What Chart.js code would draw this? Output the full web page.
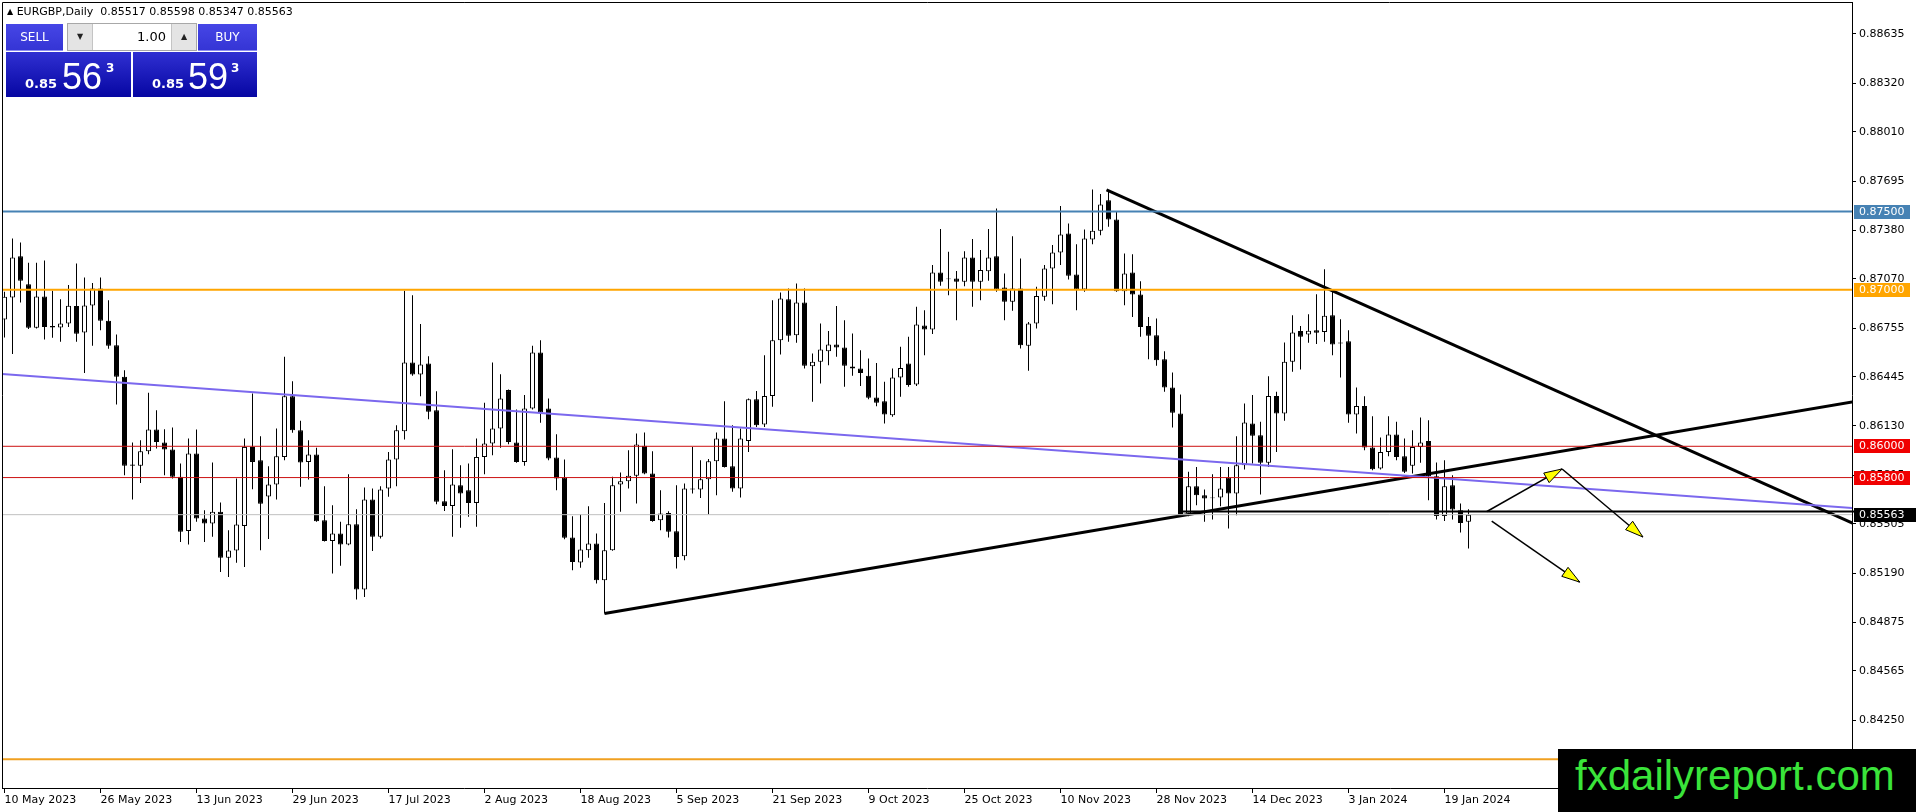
<!DOCTYPE html>
<html>
<head>
<meta charset="utf-8">
<script src="https://cdn.jsdelivr.net/npm/chart.js@4.4.1/dist/chart.umd.min.js"></script>
<style>
  html, body { margin: 0; padding: 0; background: #fff; overflow: hidden; }
  #wrap { position: relative; width: 1916px; height: 812px; }
  #chart { position: absolute; left: 0; top: 0; }
  #hdr { position: absolute; left: 7px; top: 5px; font: 11px 'DejaVu Sans', sans-serif; color: #000; white-space: pre; }
  #hdr .tri { font-size: 8px; position: relative; top: -1px; }
  .btn { position: absolute; background: linear-gradient(#4646e6, #3434d4); color: #fff; font: 12px 'DejaVu Sans', sans-serif;
         text-align: center; line-height: 27px; box-shadow: inset 0 -1px 0 #8c8cf2; }
  .spin { position: absolute; border: 1px solid #a8a8a8; background: #fff; box-sizing: border-box; }
  .spin div { position: absolute; top: 0; bottom: 0; box-sizing: border-box; }
  .spin .arr { background: #e4e4e4; font: 8px 'DejaVu Sans', sans-serif; text-align: center; line-height: 26px; color: #222; }
  .spin .inp { font: 13px 'DejaVu Sans', sans-serif; text-align: right; padding-right: 5px; line-height: 26px; color: #000; }
  .price { position: absolute; background: linear-gradient(#3030d2, #0606a2); color: #fff; }
  .price span { position: absolute; line-height: 1; white-space: nowrap; }
  .price .sm { font: bold 13px 'DejaVu Sans', sans-serif; top: 24px; }
  .price .big { font: 36px 'Liberation Sans', sans-serif; top: 4px; }
  .price .sup { font: bold 12px 'DejaVu Sans', sans-serif; top: 9px; }
  #mark { position: absolute; left: 1558px; top: 749px; width: 358px; height: 63px; background: #000; }
  #mark span { position: absolute; left: 17px; top: 6px; font: 42px 'Liberation Sans', sans-serif; color: #3ae43a; line-height: 1; }
</style>
</head>
<body>
<div id="wrap">
  <canvas id="chart" width="1916" height="812"></canvas>
  <div id="hdr"></div>
  <div class="btn" style="left:6px;top:24px;width:57px;height:27px">SELL</div>
  <div class="spin" style="left:67px;top:23px;width:130px;height:28px">
    <div class="arr" style="left:0;width:25px;border-right:1px solid #c4c4c4">▼</div>
    <div class="inp" style="left:25px;width:78px">1.00</div>
    <div class="arr" style="left:103px;width:25px;border-left:1px solid #c4c4c4">▲</div>
  </div>
  <div class="btn" style="left:198px;top:24px;width:59px;height:27px">BUY</div>
  <div class="price" style="left:6px;top:52px;width:125px;height:45px">
    <span class="sm" style="left:19px">0.85</span><span class="big" style="left:56px">56</span><span class="sup" style="left:100px">3</span>
  </div>
  <div class="price" style="left:133px;top:52px;width:124px;height:45px">
    <span class="sm" style="left:19px">0.85</span><span class="big" style="left:55px">59</span><span class="sup" style="left:98px">3</span>
  </div>
  <div id="mark"><span>fxdailyreport.com</span></div>
</div>
<script>
// EURGBP daily, 10 May 2023 .. 24 Jan 2024 (bar index 0..183)
const open = [
  0.86810, 0.86951, 0.87215, 0.87036, 0.86757, 0.86957, 0.86768, 0.86759, 0.86785, 0.86896,
  0.86727, 0.86900, 0.87009, 0.86802, 0.86646, 0.86444, 0.85883, 0.85875, 0.85969, 0.86107,
  0.86024, 0.85979, 0.85805, 0.85459, 0.85954, 0.85538, 0.85506, 0.85581, 0.85287, 0.85334,
  0.85491, 0.85996, 0.85911, 0.85679, 0.85755, 0.85932, 0.86320, 0.86103, 0.85900, 0.85947,
  0.85528, 0.85395, 0.85442, 0.85372, 0.85502, 0.85084, 0.85660, 0.85421, 0.85730, 0.85915,
  0.86096, 0.86535, 0.86459, 0.86529, 0.86231, 0.85649, 0.85619, 0.85751, 0.85719, 0.85638,
  0.85932, 0.86018, 0.86114, 0.86359, 0.86024, 0.85900, 0.86241, 0.86599, 0.86241, 0.85928,
  0.85800, 0.85417, 0.85257, 0.85336, 0.85378, 0.85144, 0.85336, 0.85755, 0.85777, 0.85811,
  0.86003, 0.85826, 0.85528, 0.85574, 0.85457, 0.85297, 0.85730, 0.85724, 0.85790, 0.85905,
  0.86050, 0.85873, 0.85730, 0.86033, 0.86301, 0.86139, 0.86322, 0.86678, 0.86940, 0.86710,
  0.86919, 0.86512, 0.86540, 0.86608, 0.86651, 0.86631, 0.86510, 0.86497, 0.86450, 0.86312,
  0.86288, 0.86199, 0.86440, 0.86529, 0.86395, 0.86772, 0.86746, 0.87111, 0.87072, 0.87072,
  0.87051, 0.87207, 0.87051, 0.87119, 0.87215, 0.87015, 0.86923, 0.87009, 0.86642, 0.86785,
  0.86955, 0.87136, 0.87239, 0.87360, 0.87098, 0.87002, 0.87322, 0.87377, 0.87573, 0.87450,
  0.86991, 0.87111, 0.86970, 0.86768, 0.86710, 0.86557, 0.86376, 0.86209, 0.85570, 0.85745,
  0.85687, 0.85672, 0.85672, 0.85800, 0.85698, 0.85879, 0.86146, 0.86071, 0.85894, 0.86322,
  0.86209, 0.86540, 0.86736, 0.86714, 0.86742, 0.86731, 0.86838, 0.86663, 0.86672, 0.86203,
  0.86258, 0.85992, 0.85858, 0.85964, 0.86075, 0.85937, 0.85875, 0.85996, 0.86033, 0.85809,
  0.85555, 0.85751, 0.85591, 0.85517
];
const high = [
  0.86987, 0.87328, 0.87303, 0.87173, 0.87173, 0.87188, 0.86994, 0.86940, 0.87030, 0.87168,
  0.87079, 0.87043, 0.87079, 0.86934, 0.86714, 0.86486, 0.86024, 0.86039, 0.86342, 0.86231,
  0.86109, 0.86120, 0.85890, 0.86050, 0.86107, 0.85591, 0.85896, 0.85640, 0.85464, 0.85794,
  0.86050, 0.86337, 0.86064, 0.85873, 0.86114, 0.86572, 0.86416, 0.86163, 0.86039, 0.85990,
  0.85745, 0.85623, 0.85517, 0.85822, 0.85598, 0.85736, 0.85730, 0.85745, 0.85964, 0.86135,
  0.86994, 0.86966, 0.86781, 0.86576, 0.86352, 0.85847, 0.85981, 0.85879, 0.85890, 0.86050,
  0.86278, 0.86535, 0.86461, 0.86363, 0.86235, 0.86327, 0.86642, 0.86678, 0.86305, 0.86077,
  0.85915, 0.85553, 0.85564, 0.85617, 0.85442, 0.85638, 0.85805, 0.85832, 0.85975, 0.86082,
  0.86088, 0.85969, 0.85719, 0.85585, 0.85751, 0.85762, 0.85996, 0.85911, 0.85918, 0.86088,
  0.86288, 0.86135, 0.86114, 0.86305, 0.86354, 0.86582, 0.86934, 0.86983, 0.87009, 0.87040,
  0.87009, 0.86593, 0.86785, 0.86736, 0.86896, 0.86806, 0.86721, 0.86614, 0.86561, 0.86533,
  0.86412, 0.86497, 0.86636, 0.86700, 0.86891, 0.86870, 0.87158, 0.87388, 0.87243, 0.87121,
  0.87247, 0.87324, 0.87254, 0.87388, 0.87520, 0.87104, 0.87343, 0.87200, 0.86795, 0.87019,
  0.87158, 0.87286, 0.87535, 0.87424, 0.87292, 0.87386, 0.87641, 0.87612, 0.87637, 0.87499,
  0.87232, 0.87228, 0.87055, 0.86827, 0.86817, 0.86608, 0.86472, 0.86331, 0.85837, 0.85868,
  0.85724, 0.85822, 0.85868, 0.85868, 0.86064, 0.86273, 0.86327, 0.86156, 0.86448, 0.86348,
  0.86663, 0.86838, 0.86768, 0.86844, 0.86972, 0.87132, 0.86994, 0.86812, 0.86742, 0.86376,
  0.86320, 0.86192, 0.86056, 0.86192, 0.86156, 0.86050, 0.86103, 0.86184, 0.86167, 0.85896,
  0.85911, 0.85815, 0.85634, 0.85598
];
const low = [
  0.86695, 0.86589, 0.86919, 0.86749, 0.86753, 0.86682, 0.86693, 0.86668, 0.86763, 0.86668,
  0.86469, 0.86642, 0.86742, 0.86623, 0.86267, 0.85815, 0.85660, 0.85766, 0.85949, 0.85986,
  0.85815, 0.85794, 0.85389, 0.85372, 0.85517, 0.85389, 0.85421, 0.85197, 0.85165, 0.85255,
  0.85229, 0.85726, 0.85336, 0.85408, 0.85660, 0.85911, 0.86086, 0.85741, 0.85787, 0.85517,
  0.85391, 0.85187, 0.85236, 0.85368, 0.85020, 0.85037, 0.85331, 0.85410, 0.85677, 0.85745,
  0.86043, 0.86450, 0.86320, 0.86173, 0.85630, 0.85587, 0.85421, 0.85479, 0.85549, 0.85485,
  0.85822, 0.85943, 0.85990, 0.86013, 0.85894, 0.85875, 0.86235, 0.86150, 0.85911, 0.85719,
  0.85406, 0.85208, 0.85223, 0.85287, 0.85123, 0.84931, 0.85332, 0.85581, 0.85730, 0.85634,
  0.85822, 0.85517, 0.85464, 0.85417, 0.85219, 0.85272, 0.85698, 0.85670, 0.85564, 0.85687,
  0.85864, 0.85709, 0.85672, 0.85964, 0.86124, 0.86124, 0.86252, 0.86587, 0.86668, 0.86661,
  0.86497, 0.86284, 0.86401, 0.86518, 0.86572, 0.86380, 0.86450, 0.86386, 0.86301, 0.86256,
  0.86146, 0.86188, 0.86316, 0.86380, 0.86386, 0.86582, 0.86717, 0.87026, 0.86966, 0.86806,
  0.87023, 0.86891, 0.86934, 0.87058, 0.86987, 0.86806, 0.86866, 0.86625, 0.86482, 0.86753,
  0.86930, 0.86908, 0.87158, 0.87066, 0.86870, 0.86987, 0.87292, 0.87349, 0.87403, 0.86987,
  0.86902, 0.86827, 0.86700, 0.86557, 0.86514, 0.86348, 0.86120, 0.85553, 0.85553, 0.85623,
  0.85517, 0.85532, 0.85617, 0.85474, 0.85560, 0.85851, 0.85890, 0.85692, 0.85868, 0.85964,
  0.86163, 0.86476, 0.86491, 0.86661, 0.86653, 0.86668, 0.86582, 0.86440, 0.86150, 0.86082,
  0.85975, 0.85847, 0.85851, 0.85937, 0.85911, 0.85830, 0.85826, 0.85894, 0.85655, 0.85532,
  0.85523, 0.85532, 0.85449, 0.85347
];
const close = [
  0.86955, 0.87207, 0.87058, 0.86757, 0.86957, 0.86763, 0.86759, 0.86785, 0.86898, 0.86719,
  0.86900, 0.87009, 0.86802, 0.86642, 0.86444, 0.85875, 0.85875, 0.85969, 0.86107, 0.86028,
  0.85979, 0.85805, 0.85453, 0.85954, 0.85538, 0.85506, 0.85581, 0.85287, 0.85334, 0.85500,
  0.85996, 0.85900, 0.85632, 0.85755, 0.85937, 0.86320, 0.86103, 0.85896, 0.85947, 0.85521,
  0.85395, 0.85442, 0.85372, 0.85502, 0.85084, 0.85660, 0.85421, 0.85724, 0.85915, 0.86103,
  0.86535, 0.86459, 0.86523, 0.86220, 0.85645, 0.85619, 0.85755, 0.85698, 0.85638, 0.85932,
  0.86018, 0.86114, 0.86305, 0.86028, 0.85900, 0.86241, 0.86599, 0.86216, 0.85922, 0.85794,
  0.85415, 0.85261, 0.85340, 0.85378, 0.85144, 0.85336, 0.85751, 0.85777, 0.85811, 0.86011,
  0.85826, 0.85523, 0.85570, 0.85453, 0.85293, 0.85730, 0.85724, 0.85790, 0.85905, 0.86050,
  0.85868, 0.85730, 0.86050, 0.86301, 0.86135, 0.86322, 0.86678, 0.86945, 0.86706, 0.86919,
  0.86514, 0.86540, 0.86619, 0.86651, 0.86631, 0.86514, 0.86497, 0.86469, 0.86310, 0.86278,
  0.86203, 0.86440, 0.86501, 0.86391, 0.86778, 0.86746, 0.87111, 0.87051, 0.87068, 0.87051,
  0.87207, 0.87051, 0.87126, 0.87207, 0.87002, 0.86923, 0.87009, 0.86646, 0.86785, 0.86960,
  0.87136, 0.87239, 0.87354, 0.87090, 0.87002, 0.87328, 0.87377, 0.87546, 0.87450, 0.86991,
  0.87104, 0.86970, 0.86763, 0.86706, 0.86550, 0.86376, 0.86214, 0.85560, 0.85745, 0.85687,
  0.85666, 0.85668, 0.85730, 0.85698, 0.85879, 0.86152, 0.86067, 0.85894, 0.86322, 0.86209,
  0.86540, 0.86727, 0.86700, 0.86738, 0.86725, 0.86834, 0.86651, 0.86657, 0.86203, 0.86258,
  0.85992, 0.85854, 0.85964, 0.86075, 0.85932, 0.85837, 0.85996, 0.86024, 0.85809, 0.85555,
  0.85745, 0.85596, 0.85510, 0.85563
];

// date axis: bar index of each label, and its text
const dateTickBars = [0, 12, 24, 36, 48, 60, 72, 84, 96, 108, 120, 132, 144, 156, 168, 180];
const dateTickLabels = [
  '10 May 2023', '26 May 2023', '13 Jun 2023', '29 Jun 2023', '17 Jul 2023', '2 Aug 2023',
  '18 Aug 2023', '5 Sep 2023', '21 Sep 2023', '9 Oct 2023', '25 Oct 2023', '10 Nov 2023',
  '28 Nov 2023', '14 Dec 2023', '3 Jan 2024', '19 Jan 2024'
];
const priceTicks = [
  0.88635, 0.88320, 0.88010, 0.87695, 0.87380, 0.87070, 0.86755, 0.86445,
  0.86130, 0.85815, 0.85505, 0.85190, 0.84875, 0.84565, 0.84250
];

// horizontal levels
const levelPrices = [0.87500, 0.87000, 0.86000, 0.85800, 0.84000];
const levelColors = ['#4682b4', '#ffa500', '#cc1010', '#cc1010', '#f0a020'];
const levelWidths = [2, 2, 1, 1, 2];
const levelBoxColors = ['#4682b4', '#ffa500', '#f00000', '#f00000', null];
const supportRay = [147, 0.85583];           // black horizontal from bar 147
const blueLine = [[-0.3, 0.86462], [231, 0.85605]];
const risingLine = [[75, 0.84931], [231, 0.86283]];
const fallingLine = [[137.75, 0.87638], [231, 0.85509]];
const arrows = [
  [185.3, 0.85583, 194.7, 0.85855],
  [194.7, 0.85855, 204.8, 0.85420],
  [185.9, 0.85522, 196.9, 0.85132]
];

const last = open.length - 1;
document.getElementById('hdr').innerHTML = '<span class="tri">▲</span> EURGBP,Daily  ' +
  [open[last], high[last], low[last], close[last]].map(v => v.toFixed(5)).join(' ');

const X_MIN = -0.3125, X_MAX = 230.9375;
const FONT = { family: "'DejaVu Sans', sans-serif", size: 11 };

const bodies = open.map((o, i) => ({ x: i, y: [o, close[i]] }));
const wicks = open.map((o, i) => ({ x: i, y: [low[i], high[i]] }));
const bodyFill = open.map((o, i) => close[i] > o ? '#ffffff' : '#000000');

const lineSet = (pts, color, width) => ({
  type: 'line', data: pts.map(p => ({ x: p[0], y: p[1] })), borderColor: color, borderWidth: width,
  pointRadius: 0, fill: false, tension: 0, order: 0
});

const datasets = [
  { type: 'bar', data: wicks, backgroundColor: '#000', borderWidth: 0, barThickness: 1,
    grouped: false, inflateAmount: 0, order: 2 },
  { type: 'bar', data: bodies, backgroundColor: bodyFill, borderColor: '#000', borderWidth: 1,
    borderSkipped: false, barThickness: 5, grouped: false, inflateAmount: 0, order: 1 },
  lineSet([[X_MIN, close[last]], [X_MAX, close[last]]], '#c0c0c0', 1)
];
levelPrices.forEach((p, i) => datasets.push(lineSet([[X_MIN, p], [X_MAX, p]], levelColors[i], levelWidths[i])));
datasets.push(lineSet([supportRay, [X_MAX, supportRay[1]]], '#000', 2));
datasets.push(lineSet(blueLine, '#7b68ee', 2));
datasets.push(lineSet(risingLine, '#000', 3));
datasets.push(lineSet(fallingLine, '#000', 3));

const decorations = {
  id: 'decorations',
  afterDatasetsDraw(chart) {
    const { ctx, scales: { x, y } } = chart;
    ctx.save();
    for (const a of arrows) {
      const x1 = x.getPixelForValue(a[0]), y1 = y.getPixelForValue(a[1]);
      const x2 = x.getPixelForValue(a[2]), y2 = y.getPixelForValue(a[3]);
      const len = Math.hypot(x2 - x1, y2 - y1), ux = (x2 - x1) / len, uy = (y2 - y1) / len;
      ctx.strokeStyle = '#000';
      ctx.lineWidth = 1.5;
      ctx.beginPath(); ctx.moveTo(x1, y1); ctx.lineTo(x2, y2); ctx.stroke();
      const bx = x2 - ux * 18, by = y2 - uy * 18;
      ctx.beginPath();
      ctx.moveTo(x2, y2);
      ctx.lineTo(bx - uy * 5.5, by + ux * 5.5);
      ctx.lineTo(bx + uy * 5.5, by - ux * 5.5);
      ctx.closePath();
      ctx.fillStyle = '#ffff00'; ctx.fill();
      ctx.lineWidth = 1; ctx.stroke();
    }
    ctx.restore();
  },
  afterDraw(chart) {
    const { ctx, chartArea: ca, scales: { y } } = chart;
    ctx.save();
    ctx.strokeStyle = '#000'; ctx.lineWidth = 1;
    ctx.beginPath();
    ctx.moveTo(ca.left + 0.5, ca.bottom); ctx.lineTo(ca.left + 0.5, ca.top + 0.5); ctx.lineTo(ca.right, ca.top + 0.5);
    ctx.stroke();
    ctx.font = "11px 'DejaVu Sans', sans-serif";
    ctx.textBaseline = 'middle';
    const box = (v, color, w) => {
      const py = Math.round(y.getPixelForValue(v));
      ctx.fillStyle = color;
      ctx.fillRect(ca.right + 2, py - 7, w, 14);
      ctx.fillStyle = '#fff';
      ctx.fillText(v.toFixed(5), ca.right + 7, py + 0.5);
    };
    levelPrices.forEach((p, i) => { if (levelBoxColors[i]) box(p, levelBoxColors[i], 56); });
    // support ray continues across the price scale, then the bid label
    const ry = y.getPixelForValue(supportRay[1]);
    ctx.fillStyle = '#000';
    ctx.fillRect(ca.right, ry - 1, chart.width - ca.right, 2);
    box(close[last], '#000', chart.width - ca.right - 2);
    ctx.restore();
  }
};

new Chart(document.getElementById('chart'), {
  type: 'bar',
  data: { datasets },
  options: {
    responsive: false,
    animation: false,
    devicePixelRatio: 1,
    events: [],
    layout: { padding: { top: 2, left: 2, right: 0, bottom: 0 } },
    plugins: { legend: { display: false }, tooltip: { enabled: false } },
    scales: {
      x: {
        type: 'linear', position: 'bottom', min: X_MIN, max: X_MAX, offset: false,
        grid: { drawOnChartArea: false, drawTicks: true, tickLength: 5, color: '#000', offset: false },
        border: { display: true, color: '#000' },
        ticks: { autoSkip: false, maxRotation: 0, align: 'start', padding: 1, color: '#000', font: FONT,
                 callback: (v, i) => dateTickLabels[i] },
        afterBuildTicks: s => { s.ticks = dateTickBars.map(v => ({ value: v })); },
        afterFit: s => { s.height = 24; s.paddingLeft = 0; s.paddingRight = 0; }
      },
      y: {
        position: 'right', min: 0.83816, max: 0.888395,
        grid: { drawOnChartArea: false, drawTicks: true, tickLength: 4, color: '#000' },
        border: { display: true, color: '#000' },
        ticks: { autoSkip: false, padding: 3, color: '#000', font: FONT, callback: v => v.toFixed(5) },
        afterBuildTicks: s => { s.ticks = priceTicks.map(v => ({ value: v })); },
        afterFit: s => { s.width = 64; s.paddingTop = 0; s.paddingBottom = 0; }
      }
    }
  },
  plugins: [decorations]
});
</script>
</body>
</html>
